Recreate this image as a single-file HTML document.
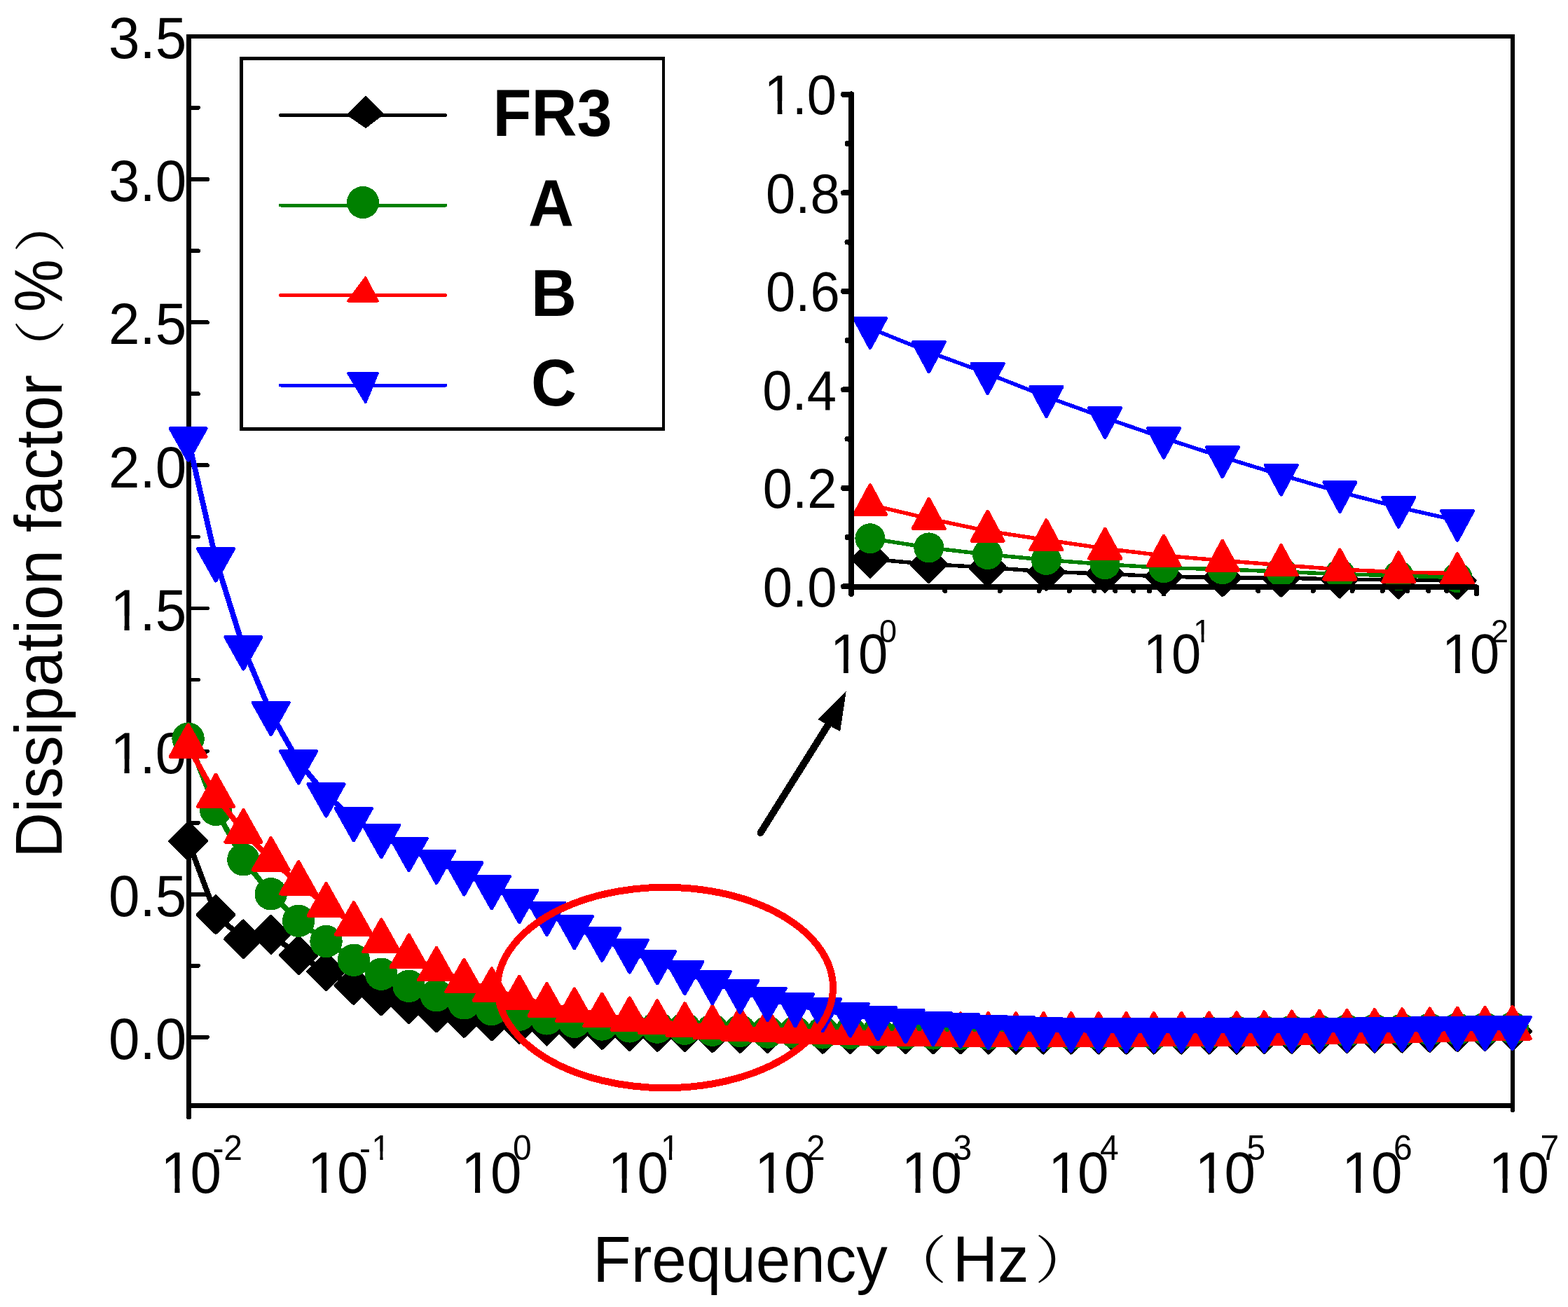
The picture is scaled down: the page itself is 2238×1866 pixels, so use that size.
<!DOCTYPE html><html><head><meta charset="utf-8"><title>Dissipation factor vs Frequency</title><style>html,body{margin:0;padding:0;background:#fff;overflow:hidden}svg{display:block} polygon,circle,line,polyline,rect,ellipse{shape-rendering:crispEdges}</style></head><body>
<svg width="2238" height="1866" viewBox="0 0 2238 1866">
<rect x="0" y="0" width="2238" height="1866" fill="#fff"/>
<g stroke="#000" fill="none" stroke-width="6.5">
<rect x="269.5" y="52.0" width="1889.5" height="1526.4" stroke-linejoin="miter"/>
<line x1="269.5" y1="1578.4" x2="269.5" y2="1595" stroke-linecap="round"/>
<line x1="2159.0" y1="1578.4" x2="2159.0" y2="1584.5" stroke-linecap="round"/>
</g>
<g stroke="#000" stroke-width="5.8" stroke-linecap="round">
<line x1="269.5" y1="1480.9" x2="296" y2="1480.9"/>
<line x1="269.5" y1="1378.8" x2="283" y2="1378.8"/>
<line x1="269.5" y1="1276.8" x2="296" y2="1276.8"/>
<line x1="269.5" y1="1174.7" x2="283" y2="1174.7"/>
<line x1="269.5" y1="1072.6" x2="296" y2="1072.6"/>
<line x1="269.5" y1="970.5" x2="283" y2="970.5"/>
<line x1="269.5" y1="868.5" x2="296" y2="868.5"/>
<line x1="269.5" y1="766.4" x2="283" y2="766.4"/>
<line x1="269.5" y1="664.3" x2="296" y2="664.3"/>
<line x1="269.5" y1="562.2" x2="283" y2="562.2"/>
<line x1="269.5" y1="460.2" x2="296" y2="460.2"/>
<line x1="269.5" y1="358.1" x2="283" y2="358.1"/>
<line x1="269.5" y1="256.0" x2="296" y2="256.0"/>
<line x1="269.5" y1="153.9" x2="283" y2="153.9"/>
<line x1="269.5" y1="51.9" x2="296" y2="51.9"/>
</g>
<text transform="translate(266.30,1512.10) scale(1,1.045)" font-family='"Liberation Sans", Arial, sans-serif' font-size="80" text-anchor="end">0.0</text>
<text transform="translate(266.30,1307.95) scale(1,1.045)" font-family='"Liberation Sans", Arial, sans-serif' font-size="80" text-anchor="end">0.5</text>
<clipPath id="k1" clipPathUnits="userSpaceOnUse"><path clip-rule="evenodd" d="M-3000,-3000H3000V3000H-3000ZM-105.35,-19.53H-88.79V30.00H-105.35ZM-81.64,-19.53H-65.51V30.00H-81.64Z"/></clipPath>
<text transform="translate(266.30,1103.80) scale(1,1.045)" clip-path="url(#k1)" font-family='"Liberation Sans", Arial, sans-serif' font-size="80" x="-108.87 -66.72 -44.49" y="0">1.0</text>
<clipPath id="k2" clipPathUnits="userSpaceOnUse"><path clip-rule="evenodd" d="M-3000,-3000H3000V3000H-3000ZM-105.35,-19.53H-88.79V30.00H-105.35ZM-81.64,-19.53H-65.51V30.00H-81.64Z"/></clipPath>
<text transform="translate(266.30,899.65) scale(1,1.045)" clip-path="url(#k2)" font-family='"Liberation Sans", Arial, sans-serif' font-size="80" x="-108.87 -66.72 -44.49" y="0">1.5</text>
<text transform="translate(266.30,695.50) scale(1,1.045)" font-family='"Liberation Sans", Arial, sans-serif' font-size="80" text-anchor="end">2.0</text>
<text transform="translate(266.30,491.35) scale(1,1.045)" font-family='"Liberation Sans", Arial, sans-serif' font-size="80" text-anchor="end">2.5</text>
<text transform="translate(266.30,287.20) scale(1,1.045)" font-family='"Liberation Sans", Arial, sans-serif' font-size="80" text-anchor="end">3.0</text>
<text transform="translate(266.30,83.05) scale(1,1.045)" font-family='"Liberation Sans", Arial, sans-serif' font-size="80" text-anchor="end">3.5</text>
<clipPath id="k3" clipPathUnits="userSpaceOnUse"><path clip-rule="evenodd" d="M-3000,-3000H3000V3000H-3000ZM5.86,-19.53H22.42V30.00H5.86ZM29.57,-19.53H45.70V30.00H29.57Z"/></clipPath>
<text transform="translate(226.99,1702.80) scale(1,1.045)" clip-path="url(#k3)" font-family='"Liberation Sans", Arial, sans-serif' font-size="80" x="2.34 44.49" y="0">10</text>
<text transform="translate(303.39,1655.90) scale(1,1.045)" font-family='"Liberation Sans", Arial, sans-serif' font-size="48" text-anchor="start">-2</text>
<clipPath id="k4" clipPathUnits="userSpaceOnUse"><path clip-rule="evenodd" d="M-3000,-3000H3000V3000H-3000ZM5.86,-19.53H22.42V30.00H5.86ZM29.57,-19.53H45.70V30.00H29.57Z"/></clipPath>
<text transform="translate(436.49,1702.80) scale(1,1.045)" clip-path="url(#k4)" font-family='"Liberation Sans", Arial, sans-serif' font-size="80" x="2.34 44.49" y="0">10</text>
<clipPath id="k5" clipPathUnits="userSpaceOnUse"><path clip-rule="evenodd" d="M-3000,-3000H3000V3000H-3000ZM19.50,-11.72H29.44V30.00H19.50ZM33.73,-11.72H43.41V30.00H33.73Z"/></clipPath>
<text transform="translate(512.89,1655.90) scale(1,1.045)" clip-path="url(#k5)" font-family='"Liberation Sans", Arial, sans-serif' font-size="48" x="0.00 17.39" y="0">-1</text>
<clipPath id="k6" clipPathUnits="userSpaceOnUse"><path clip-rule="evenodd" d="M-3000,-3000H3000V3000H-3000ZM5.86,-19.53H22.42V30.00H5.86ZM29.57,-19.53H45.70V30.00H29.57Z"/></clipPath>
<text transform="translate(655.59,1702.80) scale(1,1.045)" clip-path="url(#k6)" font-family='"Liberation Sans", Arial, sans-serif' font-size="80" x="2.34 44.49" y="0">10</text>
<text transform="translate(731.99,1655.90) scale(1,1.045)" font-family='"Liberation Sans", Arial, sans-serif' font-size="48" text-anchor="start">0</text>
<clipPath id="k7" clipPathUnits="userSpaceOnUse"><path clip-rule="evenodd" d="M-3000,-3000H3000V3000H-3000ZM5.86,-19.53H22.42V30.00H5.86ZM29.57,-19.53H45.70V30.00H29.57Z"/></clipPath>
<text transform="translate(865.09,1702.80) scale(1,1.045)" clip-path="url(#k7)" font-family='"Liberation Sans", Arial, sans-serif' font-size="80" x="2.34 44.49" y="0">10</text>
<clipPath id="k8" clipPathUnits="userSpaceOnUse"><path clip-rule="evenodd" d="M-3000,-3000H3000V3000H-3000ZM3.52,-11.72H13.45V30.00H3.52ZM17.74,-11.72H27.42V30.00H17.74Z"/></clipPath>
<text transform="translate(941.49,1655.90) scale(1,1.045)" clip-path="url(#k8)" font-family='"Liberation Sans", Arial, sans-serif' font-size="48" x="1.41" y="0">1</text>
<clipPath id="k9" clipPathUnits="userSpaceOnUse"><path clip-rule="evenodd" d="M-3000,-3000H3000V3000H-3000ZM5.86,-19.53H22.42V30.00H5.86ZM29.57,-19.53H45.70V30.00H29.57Z"/></clipPath>
<text transform="translate(1074.59,1702.80) scale(1,1.045)" clip-path="url(#k9)" font-family='"Liberation Sans", Arial, sans-serif' font-size="80" x="2.34 44.49" y="0">10</text>
<text transform="translate(1150.99,1655.90) scale(1,1.045)" font-family='"Liberation Sans", Arial, sans-serif' font-size="48" text-anchor="start">2</text>
<clipPath id="k10" clipPathUnits="userSpaceOnUse"><path clip-rule="evenodd" d="M-3000,-3000H3000V3000H-3000ZM5.86,-19.53H22.42V30.00H5.86ZM29.57,-19.53H45.70V30.00H29.57Z"/></clipPath>
<text transform="translate(1284.09,1702.80) scale(1,1.045)" clip-path="url(#k10)" font-family='"Liberation Sans", Arial, sans-serif' font-size="80" x="2.34 44.49" y="0">10</text>
<text transform="translate(1360.49,1655.90) scale(1,1.045)" font-family='"Liberation Sans", Arial, sans-serif' font-size="48" text-anchor="start">3</text>
<clipPath id="k11" clipPathUnits="userSpaceOnUse"><path clip-rule="evenodd" d="M-3000,-3000H3000V3000H-3000ZM5.86,-19.53H22.42V30.00H5.86ZM29.57,-19.53H45.70V30.00H29.57Z"/></clipPath>
<text transform="translate(1493.59,1702.80) scale(1,1.045)" clip-path="url(#k11)" font-family='"Liberation Sans", Arial, sans-serif' font-size="80" x="2.34 44.49" y="0">10</text>
<text transform="translate(1569.99,1655.90) scale(1,1.045)" font-family='"Liberation Sans", Arial, sans-serif' font-size="48" text-anchor="start">4</text>
<clipPath id="k12" clipPathUnits="userSpaceOnUse"><path clip-rule="evenodd" d="M-3000,-3000H3000V3000H-3000ZM5.86,-19.53H22.42V30.00H5.86ZM29.57,-19.53H45.70V30.00H29.57Z"/></clipPath>
<text transform="translate(1703.09,1702.80) scale(1,1.045)" clip-path="url(#k12)" font-family='"Liberation Sans", Arial, sans-serif' font-size="80" x="2.34 44.49" y="0">10</text>
<text transform="translate(1779.49,1655.90) scale(1,1.045)" font-family='"Liberation Sans", Arial, sans-serif' font-size="48" text-anchor="start">5</text>
<clipPath id="k13" clipPathUnits="userSpaceOnUse"><path clip-rule="evenodd" d="M-3000,-3000H3000V3000H-3000ZM5.86,-19.53H22.42V30.00H5.86ZM29.57,-19.53H45.70V30.00H29.57Z"/></clipPath>
<text transform="translate(1912.59,1702.80) scale(1,1.045)" clip-path="url(#k13)" font-family='"Liberation Sans", Arial, sans-serif' font-size="80" x="2.34 44.49" y="0">10</text>
<text transform="translate(1988.99,1655.90) scale(1,1.045)" font-family='"Liberation Sans", Arial, sans-serif' font-size="48" text-anchor="start">6</text>
<clipPath id="k14" clipPathUnits="userSpaceOnUse"><path clip-rule="evenodd" d="M-3000,-3000H3000V3000H-3000ZM5.86,-19.53H22.42V30.00H5.86ZM29.57,-19.53H45.70V30.00H29.57Z"/></clipPath>
<text transform="translate(2122.09,1702.80) scale(1,1.045)" clip-path="url(#k14)" font-family='"Liberation Sans", Arial, sans-serif' font-size="80" x="2.34 44.49" y="0">10</text>
<text transform="translate(2198.49,1655.90) scale(1,1.045)" font-family='"Liberation Sans", Arial, sans-serif' font-size="48" text-anchor="start">7</text>
<text transform="translate(846.30,1830.40) scale(1,1.045)" font-family='"Liberation Sans", Arial, sans-serif' font-size="89" text-anchor="start">Frequency</text>
<text transform="translate(1266.95,1825.1) scale(1.15,1)" font-family='"Noto Serif CJK SC", "Noto Serif CJK JP", serif' font-size="73.4">（</text>
<text transform="translate(1359.70,1830.40) scale(1,1.045)" font-family='"Liberation Sans", Arial, sans-serif' font-size="89" text-anchor="start">Hz</text>
<text transform="translate(1476.7,1825.1) scale(1.15,1)" font-family='"Noto Serif CJK SC", "Noto Serif CJK JP", serif' font-size="73.4">）</text>
<g transform="translate(88,1225.1) rotate(-90)">
<text transform="translate(0.00,0.00) scale(1,1.045)" font-family='"Liberation Sans", Arial, sans-serif' font-size="90" text-anchor="start">Dissipation factor</text>
<text transform="translate(684.35,-4.5) scale(1.15,1)" font-family='"Noto Serif CJK SC", "Noto Serif CJK JP", serif' font-size="73.4">（</text>
<text transform="translate(779.50,0.00) scale(1,1.13905)" font-family='"Liberation Sans", Arial, sans-serif' font-size="84.6" text-anchor="start">%</text>
<text transform="translate(864.1,-4.5) scale(1.15,1)" font-family='"Noto Serif CJK SC", "Noto Serif CJK JP", serif' font-size="73.4">）</text>
</g>
<g>
<polyline points="268.6,1200.8 308.0,1305.7 347.4,1340.9 386.7,1334.3 426.1,1363.7 465.5,1387.0 504.9,1406.6 544.3,1422.1 583.6,1433.5 623.0,1445.9 662.4,1453.3 701.8,1458.1 741.2,1462.4 780.5,1465.1 819.9,1468.7 859.3,1470.4 898.7,1472.7 938.1,1473.6 977.4,1473.8 1016.8,1474.9 1056.2,1475.5 1095.6,1476.0 1135.0,1476.3 1174.3,1476.5 1213.7,1476.8 1253.1,1476.9 1292.5,1477.0 1331.9,1477.0 1371.2,1477.1 1410.6,1477.2 1450.0,1477.2 1489.4,1477.2 1528.8,1477.2 1568.1,1477.2 1607.5,1477.2 1646.9,1477.2 1686.3,1477.2 1725.7,1477.2 1765.0,1477.2 1804.4,1476.9 1843.8,1476.5 1883.2,1476.2 1922.6,1475.9 1961.9,1475.5 2001.3,1475.2 2040.7,1474.5 2080.1,1473.8 2119.5,1473.0 2158.8,1472.3" fill="none" stroke="#000000" stroke-width="7.8" stroke-linejoin="round"/>
<polygon points="268.6,1175.0 294.4,1200.8 268.6,1226.6 242.8,1200.8" fill="#000000" stroke="#000000" stroke-width="5" stroke-linejoin="round"/>
<polygon points="308.0,1279.9 333.8,1305.7 308.0,1331.5 282.2,1305.7" fill="#000000" stroke="#000000" stroke-width="5" stroke-linejoin="round"/>
<polygon points="347.4,1315.1 373.2,1340.9 347.4,1366.7 321.6,1340.9" fill="#000000" stroke="#000000" stroke-width="5" stroke-linejoin="round"/>
<polygon points="386.7,1308.5 412.5,1334.3 386.7,1360.1 360.9,1334.3" fill="#000000" stroke="#000000" stroke-width="5" stroke-linejoin="round"/>
<polygon points="426.1,1337.9 451.9,1363.7 426.1,1389.5 400.3,1363.7" fill="#000000" stroke="#000000" stroke-width="5" stroke-linejoin="round"/>
<polygon points="465.5,1361.2 491.3,1387.0 465.5,1412.8 439.7,1387.0" fill="#000000" stroke="#000000" stroke-width="5" stroke-linejoin="round"/>
<polygon points="504.9,1380.8 530.7,1406.6 504.9,1432.4 479.1,1406.6" fill="#000000" stroke="#000000" stroke-width="5" stroke-linejoin="round"/>
<polygon points="544.3,1396.3 570.1,1422.1 544.3,1447.9 518.5,1422.1" fill="#000000" stroke="#000000" stroke-width="5" stroke-linejoin="round"/>
<polygon points="583.6,1407.7 609.4,1433.5 583.6,1459.3 557.8,1433.5" fill="#000000" stroke="#000000" stroke-width="5" stroke-linejoin="round"/>
<polygon points="623.0,1420.1 648.8,1445.9 623.0,1471.7 597.2,1445.9" fill="#000000" stroke="#000000" stroke-width="5" stroke-linejoin="round"/>
<polygon points="662.4,1427.5 688.2,1453.3 662.4,1479.1 636.6,1453.3" fill="#000000" stroke="#000000" stroke-width="5" stroke-linejoin="round"/>
<polygon points="701.8,1432.3 727.6,1458.1 701.8,1483.9 676.0,1458.1" fill="#000000" stroke="#000000" stroke-width="5" stroke-linejoin="round"/>
<polygon points="741.2,1436.6 767.0,1462.4 741.2,1488.2 715.4,1462.4" fill="#000000" stroke="#000000" stroke-width="5" stroke-linejoin="round"/>
<polygon points="780.5,1439.3 806.3,1465.1 780.5,1490.9 754.7,1465.1" fill="#000000" stroke="#000000" stroke-width="5" stroke-linejoin="round"/>
<polygon points="819.9,1442.9 845.7,1468.7 819.9,1494.5 794.1,1468.7" fill="#000000" stroke="#000000" stroke-width="5" stroke-linejoin="round"/>
<polygon points="859.3,1444.6 885.1,1470.4 859.3,1496.2 833.5,1470.4" fill="#000000" stroke="#000000" stroke-width="5" stroke-linejoin="round"/>
<polygon points="898.7,1446.9 924.5,1472.7 898.7,1498.5 872.9,1472.7" fill="#000000" stroke="#000000" stroke-width="5" stroke-linejoin="round"/>
<polygon points="938.1,1447.8 963.9,1473.6 938.1,1499.4 912.3,1473.6" fill="#000000" stroke="#000000" stroke-width="5" stroke-linejoin="round"/>
<polygon points="977.4,1448.0 1003.2,1473.8 977.4,1499.6 951.6,1473.8" fill="#000000" stroke="#000000" stroke-width="5" stroke-linejoin="round"/>
<polygon points="1016.8,1449.1 1042.6,1474.9 1016.8,1500.7 991.0,1474.9" fill="#000000" stroke="#000000" stroke-width="5" stroke-linejoin="round"/>
<polygon points="1056.2,1449.7 1082.0,1475.5 1056.2,1501.3 1030.4,1475.5" fill="#000000" stroke="#000000" stroke-width="5" stroke-linejoin="round"/>
<polygon points="1095.6,1450.2 1121.4,1476.0 1095.6,1501.8 1069.8,1476.0" fill="#000000" stroke="#000000" stroke-width="5" stroke-linejoin="round"/>
<polygon points="1135.0,1450.5 1160.8,1476.3 1135.0,1502.1 1109.2,1476.3" fill="#000000" stroke="#000000" stroke-width="5" stroke-linejoin="round"/>
<polygon points="1174.3,1450.7 1200.1,1476.5 1174.3,1502.3 1148.5,1476.5" fill="#000000" stroke="#000000" stroke-width="5" stroke-linejoin="round"/>
<polygon points="1213.7,1451.0 1239.5,1476.8 1213.7,1502.6 1187.9,1476.8" fill="#000000" stroke="#000000" stroke-width="5" stroke-linejoin="round"/>
<polygon points="1253.1,1451.1 1278.9,1476.9 1253.1,1502.7 1227.3,1476.9" fill="#000000" stroke="#000000" stroke-width="5" stroke-linejoin="round"/>
<polygon points="1292.5,1451.2 1318.3,1477.0 1292.5,1502.8 1266.7,1477.0" fill="#000000" stroke="#000000" stroke-width="5" stroke-linejoin="round"/>
<polygon points="1331.9,1451.2 1357.7,1477.0 1331.9,1502.8 1306.1,1477.0" fill="#000000" stroke="#000000" stroke-width="5" stroke-linejoin="round"/>
<polygon points="1371.2,1451.3 1397.0,1477.1 1371.2,1502.9 1345.4,1477.1" fill="#000000" stroke="#000000" stroke-width="5" stroke-linejoin="round"/>
<polygon points="1410.6,1451.4 1436.4,1477.2 1410.6,1503.0 1384.8,1477.2" fill="#000000" stroke="#000000" stroke-width="5" stroke-linejoin="round"/>
<polygon points="1450.0,1451.4 1475.8,1477.2 1450.0,1503.0 1424.2,1477.2" fill="#000000" stroke="#000000" stroke-width="5" stroke-linejoin="round"/>
<polygon points="1489.4,1451.4 1515.2,1477.2 1489.4,1503.0 1463.6,1477.2" fill="#000000" stroke="#000000" stroke-width="5" stroke-linejoin="round"/>
<polygon points="1528.8,1451.4 1554.6,1477.2 1528.8,1503.0 1503.0,1477.2" fill="#000000" stroke="#000000" stroke-width="5" stroke-linejoin="round"/>
<polygon points="1568.1,1451.4 1593.9,1477.2 1568.1,1503.0 1542.3,1477.2" fill="#000000" stroke="#000000" stroke-width="5" stroke-linejoin="round"/>
<polygon points="1607.5,1451.4 1633.3,1477.2 1607.5,1503.0 1581.7,1477.2" fill="#000000" stroke="#000000" stroke-width="5" stroke-linejoin="round"/>
<polygon points="1646.9,1451.4 1672.7,1477.2 1646.9,1503.0 1621.1,1477.2" fill="#000000" stroke="#000000" stroke-width="5" stroke-linejoin="round"/>
<polygon points="1686.3,1451.4 1712.1,1477.2 1686.3,1503.0 1660.5,1477.2" fill="#000000" stroke="#000000" stroke-width="5" stroke-linejoin="round"/>
<polygon points="1725.7,1451.4 1751.5,1477.2 1725.7,1503.0 1699.9,1477.2" fill="#000000" stroke="#000000" stroke-width="5" stroke-linejoin="round"/>
<polygon points="1765.0,1451.4 1790.8,1477.2 1765.0,1503.0 1739.2,1477.2" fill="#000000" stroke="#000000" stroke-width="5" stroke-linejoin="round"/>
<polygon points="1804.4,1451.1 1830.2,1476.9 1804.4,1502.7 1778.6,1476.9" fill="#000000" stroke="#000000" stroke-width="5" stroke-linejoin="round"/>
<polygon points="1843.8,1450.7 1869.6,1476.5 1843.8,1502.3 1818.0,1476.5" fill="#000000" stroke="#000000" stroke-width="5" stroke-linejoin="round"/>
<polygon points="1883.2,1450.4 1909.0,1476.2 1883.2,1502.0 1857.4,1476.2" fill="#000000" stroke="#000000" stroke-width="5" stroke-linejoin="round"/>
<polygon points="1922.6,1450.1 1948.4,1475.9 1922.6,1501.7 1896.8,1475.9" fill="#000000" stroke="#000000" stroke-width="5" stroke-linejoin="round"/>
<polygon points="1961.9,1449.7 1987.7,1475.5 1961.9,1501.3 1936.1,1475.5" fill="#000000" stroke="#000000" stroke-width="5" stroke-linejoin="round"/>
<polygon points="2001.3,1449.4 2027.1,1475.2 2001.3,1501.0 1975.5,1475.2" fill="#000000" stroke="#000000" stroke-width="5" stroke-linejoin="round"/>
<polygon points="2040.7,1448.7 2066.5,1474.5 2040.7,1500.3 2014.9,1474.5" fill="#000000" stroke="#000000" stroke-width="5" stroke-linejoin="round"/>
<polygon points="2080.1,1448.0 2105.9,1473.8 2080.1,1499.6 2054.3,1473.8" fill="#000000" stroke="#000000" stroke-width="5" stroke-linejoin="round"/>
<polygon points="2119.5,1447.2 2145.3,1473.0 2119.5,1498.8 2093.7,1473.0" fill="#000000" stroke="#000000" stroke-width="5" stroke-linejoin="round"/>
<polygon points="2158.8,1446.5 2184.6,1472.3 2158.8,1498.1 2133.0,1472.3" fill="#000000" stroke="#000000" stroke-width="5" stroke-linejoin="round"/>
<polyline points="268.6,1054.6 308.0,1155.9 347.4,1227.3 386.7,1276.3 426.1,1314.7 465.5,1344.1 504.9,1370.7 544.3,1390.7 583.6,1407.8 623.0,1421.3 662.4,1432.3 701.8,1441.0 741.2,1448.7 780.5,1454.4 819.9,1458.9 859.3,1462.5 898.7,1465.4 938.1,1466.6 977.4,1468.7 1016.8,1470.7 1056.2,1471.9 1095.6,1473.6 1135.0,1474.0 1174.3,1474.4 1213.7,1474.8 1253.1,1475.0 1292.5,1475.2 1331.9,1475.4 1371.2,1475.6 1410.6,1475.6 1450.0,1475.6 1489.4,1475.6 1528.8,1475.6 1568.1,1475.6 1607.5,1475.6 1646.9,1475.1 1686.3,1474.6 1725.7,1474.1 1765.0,1473.6 1804.4,1473.0 1843.8,1472.5 1883.2,1471.9 1922.6,1471.4 1961.9,1470.8 2001.3,1470.3 2040.7,1469.7 2080.1,1469.1 2119.5,1468.4 2158.8,1467.8" fill="none" stroke="#008000" stroke-width="7.8" stroke-linejoin="round"/>
<circle cx="268.6" cy="1054.6" r="23.2" fill="#008000"/>
<circle cx="308.0" cy="1155.9" r="23.2" fill="#008000"/>
<circle cx="347.4" cy="1227.3" r="23.2" fill="#008000"/>
<circle cx="386.7" cy="1276.3" r="23.2" fill="#008000"/>
<circle cx="426.1" cy="1314.7" r="23.2" fill="#008000"/>
<circle cx="465.5" cy="1344.1" r="23.2" fill="#008000"/>
<circle cx="504.9" cy="1370.7" r="23.2" fill="#008000"/>
<circle cx="544.3" cy="1390.7" r="23.2" fill="#008000"/>
<circle cx="583.6" cy="1407.8" r="23.2" fill="#008000"/>
<circle cx="623.0" cy="1421.3" r="23.2" fill="#008000"/>
<circle cx="662.4" cy="1432.3" r="23.2" fill="#008000"/>
<circle cx="701.8" cy="1441.0" r="23.2" fill="#008000"/>
<circle cx="741.2" cy="1448.7" r="23.2" fill="#008000"/>
<circle cx="780.5" cy="1454.4" r="23.2" fill="#008000"/>
<circle cx="819.9" cy="1458.9" r="23.2" fill="#008000"/>
<circle cx="859.3" cy="1462.5" r="23.2" fill="#008000"/>
<circle cx="898.7" cy="1465.4" r="23.2" fill="#008000"/>
<circle cx="938.1" cy="1466.6" r="23.2" fill="#008000"/>
<circle cx="977.4" cy="1468.7" r="23.2" fill="#008000"/>
<circle cx="1016.8" cy="1470.7" r="23.2" fill="#008000"/>
<circle cx="1056.2" cy="1471.9" r="23.2" fill="#008000"/>
<circle cx="1095.6" cy="1473.6" r="23.2" fill="#008000"/>
<circle cx="1135.0" cy="1474.0" r="23.2" fill="#008000"/>
<circle cx="1174.3" cy="1474.4" r="23.2" fill="#008000"/>
<circle cx="1213.7" cy="1474.8" r="23.2" fill="#008000"/>
<circle cx="1253.1" cy="1475.0" r="23.2" fill="#008000"/>
<circle cx="1292.5" cy="1475.2" r="23.2" fill="#008000"/>
<circle cx="1331.9" cy="1475.4" r="23.2" fill="#008000"/>
<circle cx="1371.2" cy="1475.6" r="23.2" fill="#008000"/>
<circle cx="1410.6" cy="1475.6" r="23.2" fill="#008000"/>
<circle cx="1450.0" cy="1475.6" r="23.2" fill="#008000"/>
<circle cx="1489.4" cy="1475.6" r="23.2" fill="#008000"/>
<circle cx="1528.8" cy="1475.6" r="23.2" fill="#008000"/>
<circle cx="1568.1" cy="1475.6" r="23.2" fill="#008000"/>
<circle cx="1607.5" cy="1475.6" r="23.2" fill="#008000"/>
<circle cx="1646.9" cy="1475.1" r="23.2" fill="#008000"/>
<circle cx="1686.3" cy="1474.6" r="23.2" fill="#008000"/>
<circle cx="1725.7" cy="1474.1" r="23.2" fill="#008000"/>
<circle cx="1765.0" cy="1473.6" r="23.2" fill="#008000"/>
<circle cx="1804.4" cy="1473.0" r="23.2" fill="#008000"/>
<circle cx="1843.8" cy="1472.5" r="23.2" fill="#008000"/>
<circle cx="1883.2" cy="1471.9" r="23.2" fill="#008000"/>
<circle cx="1922.6" cy="1471.4" r="23.2" fill="#008000"/>
<circle cx="1961.9" cy="1470.8" r="23.2" fill="#008000"/>
<circle cx="2001.3" cy="1470.3" r="23.2" fill="#008000"/>
<circle cx="2040.7" cy="1469.7" r="23.2" fill="#008000"/>
<circle cx="2080.1" cy="1469.1" r="23.2" fill="#008000"/>
<circle cx="2119.5" cy="1468.4" r="23.2" fill="#008000"/>
<circle cx="2158.8" cy="1467.8" r="23.2" fill="#008000"/>
<polyline points="268.6,1065.3 308.0,1136.5 347.4,1187.0 386.7,1226.9 426.1,1260.8 465.5,1292.0 504.9,1319.0 544.3,1343.3 583.6,1365.4 623.0,1383.7 662.4,1400.6 701.8,1413.1 741.2,1424.6 780.5,1434.9 819.9,1442.3 859.3,1449.5 898.7,1455.3 938.1,1459.4 977.4,1463.2 1016.8,1466.8 1056.2,1469.0 1095.6,1470.1 1135.0,1471.9 1174.3,1473.1 1213.7,1474.4 1253.1,1475.2 1292.5,1476.0 1331.9,1476.4 1371.2,1477.0 1410.6,1477.0 1450.0,1477.0 1489.4,1477.0 1528.8,1477.0 1568.1,1477.0 1607.5,1477.0 1646.9,1476.8 1686.3,1476.5 1725.7,1476.3 1765.0,1476.0 1804.4,1475.2 1843.8,1474.4 1883.2,1473.6 1922.6,1472.7 1961.9,1471.9 2001.3,1471.1 2040.7,1470.3 2080.1,1469.5 2119.5,1468.7 2158.8,1467.8" fill="none" stroke="#ff0000" stroke-width="7.8" stroke-linejoin="round"/>
<polygon points="268.6,1034.9 294.1,1080.4 243.1,1080.4" fill="#ff0000" stroke="#ff0000" stroke-width="5" stroke-linejoin="round"/>
<polygon points="308.0,1106.1 333.5,1151.6 282.5,1151.6" fill="#ff0000" stroke="#ff0000" stroke-width="5" stroke-linejoin="round"/>
<polygon points="347.4,1156.7 372.9,1202.2 321.9,1202.2" fill="#ff0000" stroke="#ff0000" stroke-width="5" stroke-linejoin="round"/>
<polygon points="386.7,1196.6 412.2,1242.1 361.2,1242.1" fill="#ff0000" stroke="#ff0000" stroke-width="5" stroke-linejoin="round"/>
<polygon points="426.1,1230.5 451.6,1276.0 400.6,1276.0" fill="#ff0000" stroke="#ff0000" stroke-width="5" stroke-linejoin="round"/>
<polygon points="465.5,1261.6 491.0,1307.1 440.0,1307.1" fill="#ff0000" stroke="#ff0000" stroke-width="5" stroke-linejoin="round"/>
<polygon points="504.9,1288.6 530.4,1334.1 479.4,1334.1" fill="#ff0000" stroke="#ff0000" stroke-width="5" stroke-linejoin="round"/>
<polygon points="544.3,1313.0 569.8,1358.5 518.8,1358.5" fill="#ff0000" stroke="#ff0000" stroke-width="5" stroke-linejoin="round"/>
<polygon points="583.6,1335.0 609.1,1380.5 558.1,1380.5" fill="#ff0000" stroke="#ff0000" stroke-width="5" stroke-linejoin="round"/>
<polygon points="623.0,1353.4 648.5,1398.9 597.5,1398.9" fill="#ff0000" stroke="#ff0000" stroke-width="5" stroke-linejoin="round"/>
<polygon points="662.4,1370.3 687.9,1415.8 636.9,1415.8" fill="#ff0000" stroke="#ff0000" stroke-width="5" stroke-linejoin="round"/>
<polygon points="701.8,1382.8 727.3,1428.3 676.3,1428.3" fill="#ff0000" stroke="#ff0000" stroke-width="5" stroke-linejoin="round"/>
<polygon points="741.2,1394.2 766.7,1439.7 715.7,1439.7" fill="#ff0000" stroke="#ff0000" stroke-width="5" stroke-linejoin="round"/>
<polygon points="780.5,1404.6 806.0,1450.1 755.0,1450.1" fill="#ff0000" stroke="#ff0000" stroke-width="5" stroke-linejoin="round"/>
<polygon points="819.9,1412.0 845.4,1457.5 794.4,1457.5" fill="#ff0000" stroke="#ff0000" stroke-width="5" stroke-linejoin="round"/>
<polygon points="859.3,1419.1 884.8,1464.6 833.8,1464.6" fill="#ff0000" stroke="#ff0000" stroke-width="5" stroke-linejoin="round"/>
<polygon points="898.7,1424.9 924.2,1470.4 873.2,1470.4" fill="#ff0000" stroke="#ff0000" stroke-width="5" stroke-linejoin="round"/>
<polygon points="938.1,1429.0 963.6,1474.5 912.6,1474.5" fill="#ff0000" stroke="#ff0000" stroke-width="5" stroke-linejoin="round"/>
<polygon points="977.4,1432.8 1002.9,1478.3 951.9,1478.3" fill="#ff0000" stroke="#ff0000" stroke-width="5" stroke-linejoin="round"/>
<polygon points="1016.8,1436.4 1042.3,1481.9 991.3,1481.9" fill="#ff0000" stroke="#ff0000" stroke-width="5" stroke-linejoin="round"/>
<polygon points="1056.2,1438.6 1081.7,1484.1 1030.7,1484.1" fill="#ff0000" stroke="#ff0000" stroke-width="5" stroke-linejoin="round"/>
<polygon points="1095.6,1439.7 1121.1,1485.2 1070.1,1485.2" fill="#ff0000" stroke="#ff0000" stroke-width="5" stroke-linejoin="round"/>
<polygon points="1135.0,1441.6 1160.5,1487.1 1109.5,1487.1" fill="#ff0000" stroke="#ff0000" stroke-width="5" stroke-linejoin="round"/>
<polygon points="1174.3,1442.8 1199.8,1488.3 1148.8,1488.3" fill="#ff0000" stroke="#ff0000" stroke-width="5" stroke-linejoin="round"/>
<polygon points="1213.7,1444.0 1239.2,1489.5 1188.2,1489.5" fill="#ff0000" stroke="#ff0000" stroke-width="5" stroke-linejoin="round"/>
<polygon points="1253.1,1444.9 1278.6,1490.4 1227.6,1490.4" fill="#ff0000" stroke="#ff0000" stroke-width="5" stroke-linejoin="round"/>
<polygon points="1292.5,1445.7 1318.0,1491.2 1267.0,1491.2" fill="#ff0000" stroke="#ff0000" stroke-width="5" stroke-linejoin="round"/>
<polygon points="1331.9,1446.1 1357.4,1491.6 1306.4,1491.6" fill="#ff0000" stroke="#ff0000" stroke-width="5" stroke-linejoin="round"/>
<polygon points="1371.2,1446.7 1396.7,1492.2 1345.7,1492.2" fill="#ff0000" stroke="#ff0000" stroke-width="5" stroke-linejoin="round"/>
<polygon points="1410.6,1446.7 1436.1,1492.2 1385.1,1492.2" fill="#ff0000" stroke="#ff0000" stroke-width="5" stroke-linejoin="round"/>
<polygon points="1450.0,1446.7 1475.5,1492.2 1424.5,1492.2" fill="#ff0000" stroke="#ff0000" stroke-width="5" stroke-linejoin="round"/>
<polygon points="1489.4,1446.7 1514.9,1492.2 1463.9,1492.2" fill="#ff0000" stroke="#ff0000" stroke-width="5" stroke-linejoin="round"/>
<polygon points="1528.8,1446.7 1554.3,1492.2 1503.3,1492.2" fill="#ff0000" stroke="#ff0000" stroke-width="5" stroke-linejoin="round"/>
<polygon points="1568.1,1446.7 1593.6,1492.2 1542.6,1492.2" fill="#ff0000" stroke="#ff0000" stroke-width="5" stroke-linejoin="round"/>
<polygon points="1607.5,1446.7 1633.0,1492.2 1582.0,1492.2" fill="#ff0000" stroke="#ff0000" stroke-width="5" stroke-linejoin="round"/>
<polygon points="1646.9,1446.4 1672.4,1491.9 1621.4,1491.9" fill="#ff0000" stroke="#ff0000" stroke-width="5" stroke-linejoin="round"/>
<polygon points="1686.3,1446.2 1711.8,1491.7 1660.8,1491.7" fill="#ff0000" stroke="#ff0000" stroke-width="5" stroke-linejoin="round"/>
<polygon points="1725.7,1445.9 1751.2,1491.4 1700.2,1491.4" fill="#ff0000" stroke="#ff0000" stroke-width="5" stroke-linejoin="round"/>
<polygon points="1765.0,1445.7 1790.5,1491.2 1739.5,1491.2" fill="#ff0000" stroke="#ff0000" stroke-width="5" stroke-linejoin="round"/>
<polygon points="1804.4,1444.9 1829.9,1490.4 1778.9,1490.4" fill="#ff0000" stroke="#ff0000" stroke-width="5" stroke-linejoin="round"/>
<polygon points="1843.8,1444.0 1869.3,1489.5 1818.3,1489.5" fill="#ff0000" stroke="#ff0000" stroke-width="5" stroke-linejoin="round"/>
<polygon points="1883.2,1443.2 1908.7,1488.7 1857.7,1488.7" fill="#ff0000" stroke="#ff0000" stroke-width="5" stroke-linejoin="round"/>
<polygon points="1922.6,1442.4 1948.1,1487.9 1897.1,1487.9" fill="#ff0000" stroke="#ff0000" stroke-width="5" stroke-linejoin="round"/>
<polygon points="1961.9,1441.6 1987.4,1487.1 1936.4,1487.1" fill="#ff0000" stroke="#ff0000" stroke-width="5" stroke-linejoin="round"/>
<polygon points="2001.3,1440.8 2026.8,1486.3 1975.8,1486.3" fill="#ff0000" stroke="#ff0000" stroke-width="5" stroke-linejoin="round"/>
<polygon points="2040.7,1440.0 2066.2,1485.5 2015.2,1485.5" fill="#ff0000" stroke="#ff0000" stroke-width="5" stroke-linejoin="round"/>
<polygon points="2080.1,1439.1 2105.6,1484.6 2054.6,1484.6" fill="#ff0000" stroke="#ff0000" stroke-width="5" stroke-linejoin="round"/>
<polygon points="2119.5,1438.3 2145.0,1483.8 2094.0,1483.8" fill="#ff0000" stroke="#ff0000" stroke-width="5" stroke-linejoin="round"/>
<polygon points="2158.8,1437.5 2184.3,1483.0 2133.3,1483.0" fill="#ff0000" stroke="#ff0000" stroke-width="5" stroke-linejoin="round"/>
<polyline points="268.6,626.7 308.0,798.6 347.4,924.8 386.7,1018.3 426.1,1087.7 465.5,1134.7 504.9,1169.4 544.3,1193.5 583.6,1212.2 623.0,1230.2 662.4,1246.7 701.8,1266.5 741.2,1286.3 780.5,1304.2 819.9,1323.4 859.3,1340.9 898.7,1357.8 938.1,1373.5 977.4,1388.4 1016.8,1402.5 1056.2,1415.2 1095.6,1426.2 1135.0,1434.6 1174.3,1441.5 1213.7,1448.8 1253.1,1453.5 1292.5,1457.4 1331.9,1461.5 1371.2,1464.0 1410.6,1466.3 1450.0,1467.8 1489.4,1469.5 1528.8,1470.3 1568.1,1470.9 1607.5,1470.9 1646.9,1470.9 1686.3,1470.9 1725.7,1470.9 1765.0,1470.9 1804.4,1470.9 1843.8,1470.9 1883.2,1470.5 1922.6,1470.2 1961.9,1469.8 2001.3,1469.5 2040.7,1468.9 2080.1,1468.3 2119.5,1467.8 2158.8,1467.2" fill="none" stroke="#0000ff" stroke-width="7.8" stroke-linejoin="round"/>
<polygon points="268.6,657.1 294.1,611.6 243.1,611.6" fill="#0000ff" stroke="#0000ff" stroke-width="5" stroke-linejoin="round"/>
<polygon points="308.0,829.0 333.5,783.5 282.5,783.5" fill="#0000ff" stroke="#0000ff" stroke-width="5" stroke-linejoin="round"/>
<polygon points="347.4,955.1 372.9,909.6 321.9,909.6" fill="#0000ff" stroke="#0000ff" stroke-width="5" stroke-linejoin="round"/>
<polygon points="386.7,1048.6 412.2,1003.1 361.2,1003.1" fill="#0000ff" stroke="#0000ff" stroke-width="5" stroke-linejoin="round"/>
<polygon points="426.1,1118.0 451.6,1072.5 400.6,1072.5" fill="#0000ff" stroke="#0000ff" stroke-width="5" stroke-linejoin="round"/>
<polygon points="465.5,1165.0 491.0,1119.5 440.0,1119.5" fill="#0000ff" stroke="#0000ff" stroke-width="5" stroke-linejoin="round"/>
<polygon points="504.9,1199.7 530.4,1154.2 479.4,1154.2" fill="#0000ff" stroke="#0000ff" stroke-width="5" stroke-linejoin="round"/>
<polygon points="544.3,1223.8 569.8,1178.3 518.8,1178.3" fill="#0000ff" stroke="#0000ff" stroke-width="5" stroke-linejoin="round"/>
<polygon points="583.6,1242.6 609.1,1197.1 558.1,1197.1" fill="#0000ff" stroke="#0000ff" stroke-width="5" stroke-linejoin="round"/>
<polygon points="623.0,1260.5 648.5,1215.0 597.5,1215.0" fill="#0000ff" stroke="#0000ff" stroke-width="5" stroke-linejoin="round"/>
<polygon points="662.4,1277.0 687.9,1231.5 636.9,1231.5" fill="#0000ff" stroke="#0000ff" stroke-width="5" stroke-linejoin="round"/>
<polygon points="701.8,1296.9 727.3,1251.4 676.3,1251.4" fill="#0000ff" stroke="#0000ff" stroke-width="5" stroke-linejoin="round"/>
<polygon points="741.2,1316.6 766.7,1271.1 715.7,1271.1" fill="#0000ff" stroke="#0000ff" stroke-width="5" stroke-linejoin="round"/>
<polygon points="780.5,1334.6 806.0,1289.1 755.0,1289.1" fill="#0000ff" stroke="#0000ff" stroke-width="5" stroke-linejoin="round"/>
<polygon points="819.9,1353.7 845.4,1308.2 794.4,1308.2" fill="#0000ff" stroke="#0000ff" stroke-width="5" stroke-linejoin="round"/>
<polygon points="859.3,1371.3 884.8,1325.8 833.8,1325.8" fill="#0000ff" stroke="#0000ff" stroke-width="5" stroke-linejoin="round"/>
<polygon points="898.7,1388.1 924.2,1342.6 873.2,1342.6" fill="#0000ff" stroke="#0000ff" stroke-width="5" stroke-linejoin="round"/>
<polygon points="938.1,1403.9 963.6,1358.4 912.6,1358.4" fill="#0000ff" stroke="#0000ff" stroke-width="5" stroke-linejoin="round"/>
<polygon points="977.4,1418.7 1002.9,1373.2 951.9,1373.2" fill="#0000ff" stroke="#0000ff" stroke-width="5" stroke-linejoin="round"/>
<polygon points="1016.8,1432.8 1042.3,1387.3 991.3,1387.3" fill="#0000ff" stroke="#0000ff" stroke-width="5" stroke-linejoin="round"/>
<polygon points="1056.2,1445.5 1081.7,1400.0 1030.7,1400.0" fill="#0000ff" stroke="#0000ff" stroke-width="5" stroke-linejoin="round"/>
<polygon points="1095.6,1456.5 1121.1,1411.0 1070.1,1411.0" fill="#0000ff" stroke="#0000ff" stroke-width="5" stroke-linejoin="round"/>
<polygon points="1135.0,1464.9 1160.5,1419.4 1109.5,1419.4" fill="#0000ff" stroke="#0000ff" stroke-width="5" stroke-linejoin="round"/>
<polygon points="1174.3,1471.9 1199.8,1426.4 1148.8,1426.4" fill="#0000ff" stroke="#0000ff" stroke-width="5" stroke-linejoin="round"/>
<polygon points="1213.7,1479.1 1239.2,1433.6 1188.2,1433.6" fill="#0000ff" stroke="#0000ff" stroke-width="5" stroke-linejoin="round"/>
<polygon points="1253.1,1483.9 1278.6,1438.4 1227.6,1438.4" fill="#0000ff" stroke="#0000ff" stroke-width="5" stroke-linejoin="round"/>
<polygon points="1292.5,1487.8 1318.0,1442.3 1267.0,1442.3" fill="#0000ff" stroke="#0000ff" stroke-width="5" stroke-linejoin="round"/>
<polygon points="1331.9,1491.8 1357.4,1446.3 1306.4,1446.3" fill="#0000ff" stroke="#0000ff" stroke-width="5" stroke-linejoin="round"/>
<polygon points="1371.2,1494.3 1396.7,1448.8 1345.7,1448.8" fill="#0000ff" stroke="#0000ff" stroke-width="5" stroke-linejoin="round"/>
<polygon points="1410.6,1496.7 1436.1,1451.2 1385.1,1451.2" fill="#0000ff" stroke="#0000ff" stroke-width="5" stroke-linejoin="round"/>
<polygon points="1450.0,1498.2 1475.5,1452.7 1424.5,1452.7" fill="#0000ff" stroke="#0000ff" stroke-width="5" stroke-linejoin="round"/>
<polygon points="1489.4,1499.8 1514.9,1454.3 1463.9,1454.3" fill="#0000ff" stroke="#0000ff" stroke-width="5" stroke-linejoin="round"/>
<polygon points="1528.8,1500.6 1554.3,1455.1 1503.3,1455.1" fill="#0000ff" stroke="#0000ff" stroke-width="5" stroke-linejoin="round"/>
<polygon points="1568.1,1501.2 1593.6,1455.7 1542.6,1455.7" fill="#0000ff" stroke="#0000ff" stroke-width="5" stroke-linejoin="round"/>
<polygon points="1607.5,1501.2 1633.0,1455.7 1582.0,1455.7" fill="#0000ff" stroke="#0000ff" stroke-width="5" stroke-linejoin="round"/>
<polygon points="1646.9,1501.2 1672.4,1455.7 1621.4,1455.7" fill="#0000ff" stroke="#0000ff" stroke-width="5" stroke-linejoin="round"/>
<polygon points="1686.3,1501.2 1711.8,1455.7 1660.8,1455.7" fill="#0000ff" stroke="#0000ff" stroke-width="5" stroke-linejoin="round"/>
<polygon points="1725.7,1501.2 1751.2,1455.7 1700.2,1455.7" fill="#0000ff" stroke="#0000ff" stroke-width="5" stroke-linejoin="round"/>
<polygon points="1765.0,1501.2 1790.5,1455.7 1739.5,1455.7" fill="#0000ff" stroke="#0000ff" stroke-width="5" stroke-linejoin="round"/>
<polygon points="1804.4,1501.2 1829.9,1455.7 1778.9,1455.7" fill="#0000ff" stroke="#0000ff" stroke-width="5" stroke-linejoin="round"/>
<polygon points="1843.8,1501.2 1869.3,1455.7 1818.3,1455.7" fill="#0000ff" stroke="#0000ff" stroke-width="5" stroke-linejoin="round"/>
<polygon points="1883.2,1500.9 1908.7,1455.4 1857.7,1455.4" fill="#0000ff" stroke="#0000ff" stroke-width="5" stroke-linejoin="round"/>
<polygon points="1922.6,1500.5 1948.1,1455.0 1897.1,1455.0" fill="#0000ff" stroke="#0000ff" stroke-width="5" stroke-linejoin="round"/>
<polygon points="1961.9,1500.2 1987.4,1454.7 1936.4,1454.7" fill="#0000ff" stroke="#0000ff" stroke-width="5" stroke-linejoin="round"/>
<polygon points="2001.3,1499.8 2026.8,1454.3 1975.8,1454.3" fill="#0000ff" stroke="#0000ff" stroke-width="5" stroke-linejoin="round"/>
<polygon points="2040.7,1499.2 2066.2,1453.7 2015.2,1453.7" fill="#0000ff" stroke="#0000ff" stroke-width="5" stroke-linejoin="round"/>
<polygon points="2080.1,1498.7 2105.6,1453.2 2054.6,1453.2" fill="#0000ff" stroke="#0000ff" stroke-width="5" stroke-linejoin="round"/>
<polygon points="2119.5,1498.1 2145.0,1452.6 2094.0,1452.6" fill="#0000ff" stroke="#0000ff" stroke-width="5" stroke-linejoin="round"/>
<polygon points="2158.8,1497.6 2184.3,1452.1 2133.3,1452.1" fill="#0000ff" stroke="#0000ff" stroke-width="5" stroke-linejoin="round"/>
</g>
<rect x="344.4" y="83.3" width="602.6" height="529.5" fill="none" stroke="#000" stroke-width="4.7"/>
<g stroke-width="5" stroke-linecap="round">
<line x1="400.5" y1="164.4" x2="635.5" y2="164.4" stroke="#000"/>
<line x1="400.5" y1="293" x2="635.5" y2="293" stroke="#008000"/>
<line x1="400.5" y1="421.5" x2="635.5" y2="421.5" stroke="#ff0000"/>
<line x1="400.5" y1="550" x2="635.5" y2="550" stroke="#0000ff"/>
</g>
<polygon points="522,138.5 546.2,163 522,181.3 497,164" fill="#000" stroke="#000" stroke-width="3" stroke-linejoin="round"/>
<circle cx="518" cy="289" r="23" fill="#008000"/>
<polygon points="521.8,396 539.3,430 496.5,430" fill="#ff0000" stroke="#ff0000" stroke-width="3" stroke-linejoin="round"/>
<polygon points="496.5,532.7 539.3,532.7 521.8,575" fill="#0000ff" stroke="#0000ff" stroke-width="3" stroke-linejoin="round"/>
<text transform="translate(703.58,194.10) scale(1,1.045)" font-family='"Liberation Sans", Arial, sans-serif' font-size="90" text-anchor="start" font-weight="bold">FR3</text>
<text transform="translate(754.06,323.30) scale(1,1.045)" font-family='"Liberation Sans", Arial, sans-serif' font-size="90" text-anchor="start" font-weight="bold">A</text>
<text transform="translate(757.98,451.20) scale(1,1.045)" font-family='"Liberation Sans", Arial, sans-serif' font-size="90" text-anchor="start" font-weight="bold">B</text>
<text transform="translate(758.01,579.00) scale(1,1.045)" font-family='"Liberation Sans", Arial, sans-serif' font-size="90" text-anchor="start" font-weight="bold">C</text>
<polyline points="1241.9,798.1 1325.8,805.5 1409.6,810.1 1493.4,816.2 1577.2,819.2 1661.0,823.2 1744.8,824.7 1828.6,825.1 1912.4,827.0 1996.2,828.0 2080.1,828.9" fill="none" stroke="#000000" stroke-width="5.5" stroke-linejoin="round"/>
<polygon points="1241.9,773.1 1266.9,798.1 1241.9,823.1 1216.9,798.1" fill="#000000" stroke="#000000" stroke-width="5" stroke-linejoin="round"/>
<polygon points="1325.8,780.5 1350.8,805.5 1325.8,830.5 1300.8,805.5" fill="#000000" stroke="#000000" stroke-width="5" stroke-linejoin="round"/>
<polygon points="1409.6,785.1 1434.6,810.1 1409.6,835.1 1384.6,810.1" fill="#000000" stroke="#000000" stroke-width="5" stroke-linejoin="round"/>
<polygon points="1493.4,791.2 1518.4,816.2 1493.4,841.2 1468.4,816.2" fill="#000000" stroke="#000000" stroke-width="5" stroke-linejoin="round"/>
<polygon points="1577.2,794.2 1602.2,819.2 1577.2,844.2 1552.2,819.2" fill="#000000" stroke="#000000" stroke-width="5" stroke-linejoin="round"/>
<polygon points="1661.0,798.2 1686.0,823.2 1661.0,848.2 1636.0,823.2" fill="#000000" stroke="#000000" stroke-width="5" stroke-linejoin="round"/>
<polygon points="1744.8,799.7 1769.8,824.7 1744.8,849.7 1719.8,824.7" fill="#000000" stroke="#000000" stroke-width="5" stroke-linejoin="round"/>
<polygon points="1828.6,800.1 1853.6,825.1 1828.6,850.1 1803.6,825.1" fill="#000000" stroke="#000000" stroke-width="5" stroke-linejoin="round"/>
<polygon points="1912.4,802.0 1937.4,827.0 1912.4,852.0 1887.4,827.0" fill="#000000" stroke="#000000" stroke-width="5" stroke-linejoin="round"/>
<polygon points="1996.2,803.0 2021.2,828.0 1996.2,853.0 1971.2,828.0" fill="#000000" stroke="#000000" stroke-width="5" stroke-linejoin="round"/>
<polygon points="2080.1,803.9 2105.1,828.9 2080.1,853.9 2055.1,828.9" fill="#000000" stroke="#000000" stroke-width="5" stroke-linejoin="round"/>
<polyline points="1241.9,768.7 1325.8,781.9 1409.6,791.6 1493.4,799.4 1577.2,805.7 1661.0,810.6 1744.8,812.7 1828.6,816.2 1912.4,819.7 1996.2,821.8 2080.1,824.7" fill="none" stroke="#008000" stroke-width="5.5" stroke-linejoin="round"/>
<circle cx="1241.9" cy="768.7" r="21.5" fill="#008000"/>
<circle cx="1325.8" cy="781.9" r="21.5" fill="#008000"/>
<circle cx="1409.6" cy="791.6" r="21.5" fill="#008000"/>
<circle cx="1493.4" cy="799.4" r="21.5" fill="#008000"/>
<circle cx="1577.2" cy="805.7" r="21.5" fill="#008000"/>
<circle cx="1661.0" cy="810.6" r="21.5" fill="#008000"/>
<circle cx="1744.8" cy="812.7" r="21.5" fill="#008000"/>
<circle cx="1828.6" cy="816.2" r="21.5" fill="#008000"/>
<circle cx="1912.4" cy="819.7" r="21.5" fill="#008000"/>
<circle cx="1996.2" cy="821.8" r="21.5" fill="#008000"/>
<circle cx="2080.1" cy="824.7" r="21.5" fill="#008000"/>
<polyline points="1241.9,720.7 1325.8,740.4 1409.6,758.2 1493.4,770.9 1577.2,783.2 1661.0,793.2 1744.8,800.3 1828.6,806.8 1912.4,813.0 1996.2,816.8 2080.1,818.7" fill="none" stroke="#ff0000" stroke-width="5.5" stroke-linejoin="round"/>
<polygon points="1241.9,692.7 1264.4,734.7 1219.4,734.7" fill="#ff0000" stroke="#ff0000" stroke-width="5" stroke-linejoin="round"/>
<polygon points="1325.8,712.4 1348.2,754.4 1303.2,754.4" fill="#ff0000" stroke="#ff0000" stroke-width="5" stroke-linejoin="round"/>
<polygon points="1409.6,730.2 1432.1,772.2 1387.1,772.2" fill="#ff0000" stroke="#ff0000" stroke-width="5" stroke-linejoin="round"/>
<polygon points="1493.4,742.9 1515.9,784.9 1470.9,784.9" fill="#ff0000" stroke="#ff0000" stroke-width="5" stroke-linejoin="round"/>
<polygon points="1577.2,755.2 1599.7,797.2 1554.7,797.2" fill="#ff0000" stroke="#ff0000" stroke-width="5" stroke-linejoin="round"/>
<polygon points="1661.0,765.2 1683.5,807.2 1638.5,807.2" fill="#ff0000" stroke="#ff0000" stroke-width="5" stroke-linejoin="round"/>
<polygon points="1744.8,772.3 1767.3,814.3 1722.3,814.3" fill="#ff0000" stroke="#ff0000" stroke-width="5" stroke-linejoin="round"/>
<polygon points="1828.6,778.8 1851.1,820.8 1806.1,820.8" fill="#ff0000" stroke="#ff0000" stroke-width="5" stroke-linejoin="round"/>
<polygon points="1912.4,785.0 1934.9,827.0 1889.9,827.0" fill="#ff0000" stroke="#ff0000" stroke-width="5" stroke-linejoin="round"/>
<polygon points="1996.2,788.8 2018.8,830.8 1973.8,830.8" fill="#ff0000" stroke="#ff0000" stroke-width="5" stroke-linejoin="round"/>
<polygon points="2080.1,790.7 2102.6,832.7 2057.6,832.7" fill="#ff0000" stroke="#ff0000" stroke-width="5" stroke-linejoin="round"/>
<polyline points="1241.9,468.5 1325.8,502.5 1409.6,533.3 1493.4,566.3 1577.2,596.5 1661.0,625.4 1744.8,652.5 1828.6,678.1 1912.4,702.4 1996.2,724.2 2080.1,743.2" fill="none" stroke="#0000ff" stroke-width="5.5" stroke-linejoin="round"/>
<polygon points="1241.9,496.5 1264.4,454.5 1219.4,454.5" fill="#0000ff" stroke="#0000ff" stroke-width="5" stroke-linejoin="round"/>
<polygon points="1325.8,530.5 1348.2,488.5 1303.2,488.5" fill="#0000ff" stroke="#0000ff" stroke-width="5" stroke-linejoin="round"/>
<polygon points="1409.6,561.3 1432.1,519.3 1387.1,519.3" fill="#0000ff" stroke="#0000ff" stroke-width="5" stroke-linejoin="round"/>
<polygon points="1493.4,594.3 1515.9,552.3 1470.9,552.3" fill="#0000ff" stroke="#0000ff" stroke-width="5" stroke-linejoin="round"/>
<polygon points="1577.2,624.5 1599.7,582.5 1554.7,582.5" fill="#0000ff" stroke="#0000ff" stroke-width="5" stroke-linejoin="round"/>
<polygon points="1661.0,653.4 1683.5,611.4 1638.5,611.4" fill="#0000ff" stroke="#0000ff" stroke-width="5" stroke-linejoin="round"/>
<polygon points="1744.8,680.5 1767.3,638.5 1722.3,638.5" fill="#0000ff" stroke="#0000ff" stroke-width="5" stroke-linejoin="round"/>
<polygon points="1828.6,706.1 1851.1,664.1 1806.1,664.1" fill="#0000ff" stroke="#0000ff" stroke-width="5" stroke-linejoin="round"/>
<polygon points="1912.4,730.4 1934.9,688.4 1889.9,688.4" fill="#0000ff" stroke="#0000ff" stroke-width="5" stroke-linejoin="round"/>
<polygon points="1996.2,752.2 2018.8,710.2 1973.8,710.2" fill="#0000ff" stroke="#0000ff" stroke-width="5" stroke-linejoin="round"/>
<polygon points="2080.1,771.2 2102.6,729.2 2057.6,729.2" fill="#0000ff" stroke="#0000ff" stroke-width="5" stroke-linejoin="round"/>
<g stroke="#000" stroke-width="8">
<line x1="1215.2" y1="134.4" x2="1215.2" y2="848" stroke-linecap="round"/>
<line x1="1215.2" y1="837.9" x2="2107.5" y2="837.9" stroke-width="7.2"/>
</g>
<g stroke="#000" stroke-width="8" stroke-linecap="round">
<line x1="1215.2" y1="837.3" x2="1204" y2="837.3"/>
<line x1="1215.2" y1="767.0" x2="1209.5" y2="767.0"/>
<line x1="1215.2" y1="696.8" x2="1204" y2="696.8"/>
<line x1="1215.2" y1="626.5" x2="1209.5" y2="626.5"/>
<line x1="1215.2" y1="556.3" x2="1204" y2="556.3"/>
<line x1="1215.2" y1="486.0" x2="1209.5" y2="486.0"/>
<line x1="1215.2" y1="415.8" x2="1204" y2="415.8"/>
<line x1="1215.2" y1="345.5" x2="1209.5" y2="345.5"/>
<line x1="1215.2" y1="275.3" x2="1204" y2="275.3"/>
<line x1="1215.2" y1="205.0" x2="1209.5" y2="205.0"/>
<line x1="1215.2" y1="134.8" x2="1204" y2="134.8"/>
</g>
<g stroke="#000" stroke-width="7" stroke-linecap="round">
<line x1="1348.6" y1="837.9" x2="1348.6" y2="843.5"/>
<line x1="1427.3" y1="837.9" x2="1427.3" y2="843.5"/>
<line x1="1483.1" y1="837.9" x2="1483.1" y2="843.5"/>
<line x1="1526.4" y1="837.9" x2="1526.4" y2="843.5"/>
<line x1="1561.8" y1="837.9" x2="1561.8" y2="843.5"/>
<line x1="1591.8" y1="837.9" x2="1591.8" y2="843.5"/>
<line x1="1617.7" y1="837.9" x2="1617.7" y2="843.5"/>
<line x1="1640.5" y1="837.9" x2="1640.5" y2="843.5"/>
<line x1="1795.6" y1="837.9" x2="1795.6" y2="843.5"/>
<line x1="1874.3" y1="837.9" x2="1874.3" y2="843.5"/>
<line x1="1930.1" y1="837.9" x2="1930.1" y2="843.5"/>
<line x1="1973.4" y1="837.9" x2="1973.4" y2="843.5"/>
<line x1="2008.8" y1="837.9" x2="2008.8" y2="843.5"/>
<line x1="2038.8" y1="837.9" x2="2038.8" y2="843.5"/>
<line x1="2064.7" y1="837.9" x2="2064.7" y2="843.5"/>
<line x1="2087.5" y1="837.9" x2="2087.5" y2="843.5"/>
<line x1="1661.0" y1="837.9" x2="1661.0" y2="848"/>
<line x1="2107.5" y1="837.9" x2="2107.5" y2="848"/>
</g>
<text transform="translate(1194.40,865.80) scale(1,1.045)" font-family='"Liberation Sans", Arial, sans-serif' font-size="76" text-anchor="end">0.0</text>
<text transform="translate(1194.40,725.30) scale(1,1.045)" font-family='"Liberation Sans", Arial, sans-serif' font-size="76" text-anchor="end">0.2</text>
<text transform="translate(1193.90,584.80) scale(1,1.045)" font-family='"Liberation Sans", Arial, sans-serif' font-size="76" text-anchor="end">0.4</text>
<text transform="translate(1198.70,444.30) scale(1,1.045)" font-family='"Liberation Sans", Arial, sans-serif' font-size="76" text-anchor="end">0.6</text>
<text transform="translate(1198.70,303.80) scale(1,1.045)" font-family='"Liberation Sans", Arial, sans-serif' font-size="76" text-anchor="end">0.8</text>
<clipPath id="k15" clipPathUnits="userSpaceOnUse"><path clip-rule="evenodd" d="M-3000,-3000H3000V3000H-3000ZM-100.08,-18.55H-84.35V30.00H-100.08ZM-77.56,-18.55H-62.23V30.00H-77.56Z"/></clipPath>
<text transform="translate(1194.00,163.30) scale(1,1.045)" clip-path="url(#k15)" font-family='"Liberation Sans", Arial, sans-serif' font-size="76" x="-103.42 -63.38 -42.27" y="0">1.0</text>
<clipPath id="k16" clipPathUnits="userSpaceOnUse"><path clip-rule="evenodd" d="M-3000,-3000H3000V3000H-3000ZM5.57,-18.55H21.30V30.00H5.57ZM28.09,-18.55H43.42V30.00H28.09Z"/></clipPath>
<text transform="translate(1182.72,960.80) scale(1,1.045)" clip-path="url(#k16)" font-family='"Liberation Sans", Arial, sans-serif' font-size="76" x="2.23 42.27" y="0">10</text>
<text transform="translate(1255.12,917.20) scale(1,1.045)" font-family='"Liberation Sans", Arial, sans-serif' font-size="45" text-anchor="start">0</text>
<clipPath id="k17" clipPathUnits="userSpaceOnUse"><path clip-rule="evenodd" d="M-3000,-3000H3000V3000H-3000ZM5.57,-18.55H21.30V30.00H5.57ZM28.09,-18.55H43.42V30.00H28.09Z"/></clipPath>
<text transform="translate(1629.62,960.80) scale(1,1.045)" clip-path="url(#k17)" font-family='"Liberation Sans", Arial, sans-serif' font-size="76" x="2.23 42.27" y="0">10</text>
<clipPath id="k18" clipPathUnits="userSpaceOnUse"><path clip-rule="evenodd" d="M-3000,-3000H3000V3000H-3000ZM3.30,-10.99H12.61V30.00H3.30ZM16.63,-10.99H25.71V30.00H16.63Z"/></clipPath>
<text transform="translate(1702.02,917.20) scale(1,1.045)" clip-path="url(#k18)" font-family='"Liberation Sans", Arial, sans-serif' font-size="45" x="1.32" y="0">1</text>
<clipPath id="k19" clipPathUnits="userSpaceOnUse"><path clip-rule="evenodd" d="M-3000,-3000H3000V3000H-3000ZM5.57,-18.55H21.30V30.00H5.57ZM28.09,-18.55H43.42V30.00H28.09Z"/></clipPath>
<text transform="translate(2055.72,960.80) scale(1,1.045)" clip-path="url(#k19)" font-family='"Liberation Sans", Arial, sans-serif' font-size="76" x="2.23 42.27" y="0">10</text>
<text transform="translate(2128.12,917.20) scale(1,1.045)" font-family='"Liberation Sans", Arial, sans-serif' font-size="45" text-anchor="start">2</text>
<ellipse cx="949.5" cy="1410" rx="239.5" ry="143.2" fill="none" stroke="#ff0000" stroke-width="10"/>
<line x1="1085.5" y1="1189" x2="1190" y2="1022" stroke="#000" stroke-width="10" stroke-linecap="round"/>
<polygon points="1207.7,987.1 1167,1027.1 1199.2,1044.2" fill="#000"/>
</svg></body></html>
